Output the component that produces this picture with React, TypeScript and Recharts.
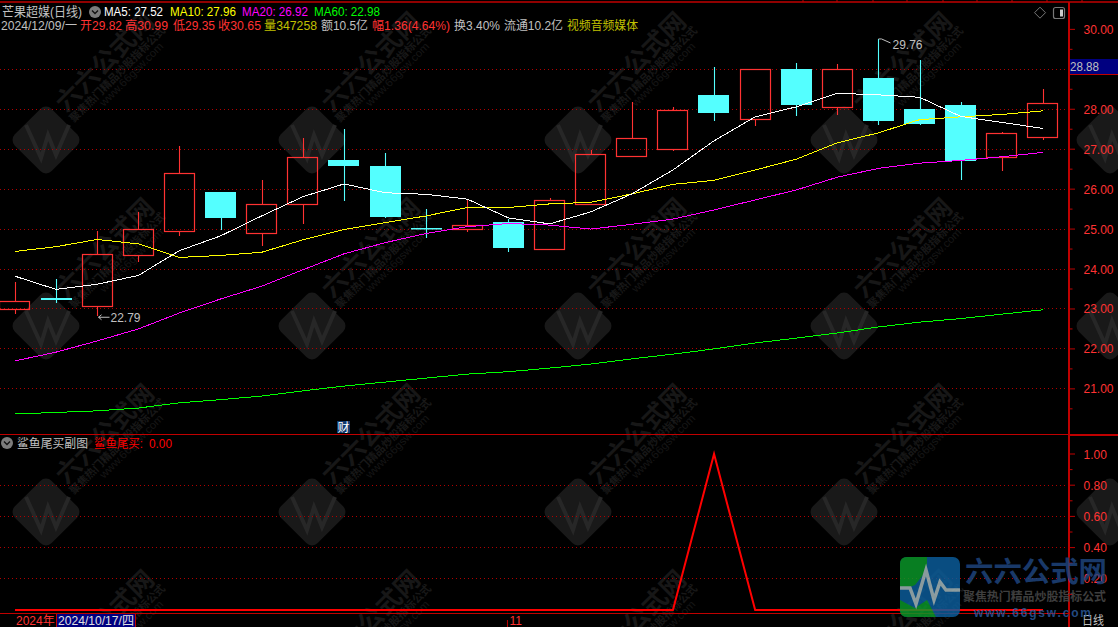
import React from "react";
import { ComposedChart, Bar, Line, XAxis, YAxis, CartesianGrid } from "recharts";

const indexes = [0,1,2,3,4,5,6,7,8,9,10,11,12,13,14,15,16,17,18,19,20,21,22,23,24,25];
const opens = [23.01,23.27,23.08,24.36,24.96,25.93,24.91,25.64,26.73,26.58,25.03,25.01,25.18,24.51,25.62,26.84,27.01,28.36,27.75,29.01,28.06,28.78,28.00,28.11,26.81,27.30];
const closes = [23.19,23.22,24.37,24.99,26.40,25.28,25.62,26.80,26.58,25.30,25.01,25.09,24.53,25.72,26.87,27.27,27.97,27.91,29.00,28.11,29.02,27.71,27.63,26.71,27.40,28.15];
const highs = [23.67,23.75,24.94,25.43,27.08,25.93,26.23,27.28,27.50,26.90,25.50,25.74,25.25,25.78,26.98,28.18,28.06,29.05,29.00,29.16,29.13,29.76,29.23,28.18,27.43,28.51];
const lows = [22.88,23.15,22.83,24.18,24.83,24.98,24.58,25.13,25.71,25.28,24.78,24.93,24.43,24.51,25.62,26.84,26.95,27.71,27.59,27.84,27.85,27.61,27.61,26.24,26.45,27.24];
const ma5 = [23.82,23.49,23.62,23.84,24.46,24.83,25.33,25.81,26.13,25.91,25.87,25.75,25.28,25.13,25.43,25.88,26.48,27.21,27.81,28.06,28.40,28.36,28.30,27.82,27.67,27.52];
const ma10 = [24.44,24.56,24.74,24.63,24.29,24.34,24.42,24.73,24.99,25.16,25.33,25.54,25.54,25.63,25.67,25.88,26.12,26.22,26.48,26.75,27.16,27.41,27.74,27.81,27.87,27.96];
const ma20 = [21.70,21.92,22.20,22.50,22.90,23.25,23.57,23.98,24.38,24.66,24.89,25.06,25.14,25.10,25.00,25.12,25.25,25.48,25.73,25.98,26.30,26.52,26.65,26.72,26.81,26.92];
const ma60 = [20.37,20.41,20.45,20.52,20.65,20.73,20.82,20.95,21.07,21.17,21.27,21.37,21.43,21.52,21.62,21.75,21.87,22.00,22.15,22.27,22.40,22.55,22.67,22.76,22.87,22.98];
const signal = [0,0,0,0,0,0,0,0,0,0,0,0,0,0,0,0,0,1,0,0,0,0,0,0,0,0];

const priceTicks = [20.5,21,21.5,22,22.5,23,23.5,24,24.5,25,25.5,26,26.5,27,27.5,28,28.5,29,29.5,30];
const priceGrid = [21,22,23,24,25,26,27,28,29];
const signalTicks = [0.1,0.2,0.3,0.4,0.5,0.6,0.7,0.8,0.9,1.0];
const signalGrid = [0.2,0.4,0.6,0.8];
const timeTicks = [0,12];
const timeLabels: Record<number,string> = { 0: "2024年", 12: "11" };
const lowMark = { index: 2, label: "22.79" };
const highMark = { index: 21, label: "29.76" };

const rows = indexes.map((i) => ({
  i, open: opens[i], close: closes[i], high: highs[i], low: lows[i],
  ma5: ma5[i], ma10: ma10[i], ma20: ma20[i], ma60: ma60[i], signal: signal[i],
}));

const RED = "#ff3232";
const CYAN = "#54ffff";
const FRAME = "#c00000";
const GREY = "#c0c0c0";
const FONT = "'Liberation Sans','Noto Sans CJK SC',sans-serif";
const CJK = "'Noto Sans CJK SC',sans-serif";
const X_DOMAIN: [number, number] = [-0.3648, 25.632];

const Candle = (props: any) => {
  const { x, y, width, height, payload, index } = props;
  const k = height / (payload.high - payload.low);
  const py = (p: number) => y + (payload.high - p) * k;
  const up = payload.close >= payload.open;
  const top = Math.round(py(Math.max(payload.open, payload.close)));
  const bot = Math.round(py(Math.min(payload.open, payload.close)));
  const left = Math.round(x);
  const cx = Math.round(x + width / 2) + 0.5;
  const color = up ? RED : CYAN;
  const lowY = y + height;
  return (
    <g>
      <line x1={cx} x2={cx} y1={Math.round(y)} y2={top} stroke={color} strokeWidth={1.1} />
      <line x1={cx} x2={cx} y1={bot} y2={Math.round(lowY)} stroke={color} strokeWidth={1.1} />
      {up ? (
        <rect x={left + 0.5} y={top + 0.5} width={width - 1} height={Math.max(bot - top, 1)} fill="none" stroke={color} strokeWidth={1.2} />
      ) : (
        <rect x={left} y={top} width={width} height={Math.max(bot - top, 1.5)} fill={color} />
      )}
      {index === lowMark.index && (
        <g>
          <path d={`M${cx + 1} ${lowY + 1.5}h11M${cx + 1} ${lowY + 1.5}l3 -2.5M${cx + 1} ${lowY + 1.5}l3 2.5`} stroke={GREY} fill="none" strokeWidth={1} />
          <text x={cx + 13} y={lowY + 6} fill={GREY} fontSize={12} fontFamily={FONT}>{lowMark.label}</text>
        </g>
      )}
      {index === highMark.index && (
        <g>
          <path d={`M${cx} ${y}h3l9 4`} stroke={GREY} fill="none" strokeWidth={1} />
          <text x={cx + 14} y={y + 10} fill={GREY} fontSize={12} fontFamily={FONT}>{highMark.label}</text>
        </g>
      )}
    </g>
  );
};

const AxisTick = (props: any) => {
  const { y, payload } = props;
  const v = payload.value;
  const major = Math.abs(v * 10 % 2) < 0.01 || Math.abs(v * 10 % 2 - 2) < 0.01;
  return (
    <g>
      <line x1={1070} x2={major ? 1075 : 1072.5} y1={y} y2={y} stroke={FRAME} strokeWidth={1} />
      {major && <text x={1083.5} y={y + 4.5} fill={RED} fontSize={12} fontFamily={FONT}>{v.toFixed(2)}</text>}
    </g>
  );
};

const PriceTick = (props: any) => {
  const { y, payload } = props;
  const v = payload.value;
  const major = Number.isInteger(v);
  return (
    <g>
      <line x1={1070} x2={major ? 1075 : 1072.5} y1={y} y2={y} stroke={FRAME} strokeWidth={1} />
      {major && v >= 21 && <text x={1083.5} y={y + 4.5} fill={RED} fontSize={12} fontFamily={FONT}>{v.toFixed(2)}</text>}
    </g>
  );
};

const TimeTick = (props: any) => {
  const { x, y, payload } = props;
  const v = payload.value;
  return (
    <g>
      {v === 12 && <line x1={x - 1} x2={x - 1} y1={y - 1} y2={y + 14} stroke={FRAME} />}
      <text x={x + 1} y={189} fill={RED} fontSize={12} fontFamily={FONT}>{timeLabels[v]}</text>
    </g>
  );
};

const T = ({ x, y, w, c, children, size = 12 }: any) => (
  <text x={x} y={y} textLength={w} lengthAdjust="spacingAndGlyphs" fill={c} fontSize={size} fontFamily={FONT}>{children}</text>
);

const Chevron = ({ x, y }: any) => (
  <g>
    <circle cx={x} cy={y} r={6} fill="#7c7c7c" />
    <path d={`M${x - 3} ${y - 1.5}l3 3l3 -3`} fill="none" stroke="#111" strokeWidth={1.3} />
  </g>
);

const wmRows = [140, 326, 512, 698];
const wmCols = [46, 312, 578, 844, 1110];

const Watermarks = () => (
  <svg width={1118} height={627} style={{ position: "absolute", left: 0, top: 0 }}>
    {wmRows.map((cy) =>
      wmCols.map((cx) => (
        <g key={`${cx}-${cy}`}>
          <rect x={-26} y={-26} width={52} height={52} rx={8} fill="#191919" transform={`translate(${cx} ${cy}) rotate(45)`} />
          <path d={`M${cx - 20} ${cy - 15}L${cx - 5} ${cy + 18}L${cx + 2} ${cy - 5}L${cx + 10} ${cy + 15}L${cx + 23} ${cy - 15}`} fill="none" stroke="#272727" strokeWidth={4} />
          {cx < 1100 && (
            <g>
              <g transform={`translate(${cx + 65} ${cy - 72}) rotate(-45)`}>
                <text textAnchor="middle" textLength={127} lengthAdjust="spacingAndGlyphs" fontSize={25} fontWeight={700} fill="#171717" fontFamily={CJK}>六六公式网</text>
              </g>
              <g transform={`translate(${cx + 74} ${cy - 63}) rotate(-45)`}>
                <text textAnchor="middle" textLength={130} lengthAdjust="spacingAndGlyphs" fontSize={11} fontWeight={700} fill="#181818" fontFamily={CJK}>聚焦热门精品炒股指标公式</text>
              </g>
              <g transform={`translate(${cx + 88} ${cy - 63}) rotate(-45)`}>
                <text textAnchor="middle" textLength={85} lengthAdjust="spacingAndGlyphs" fontSize={11} fill="#161616" fontFamily={FONT}>www.66gsw.com</text>
              </g>
            </g>
          )}
        </g>
      ))
    )}
  </svg>
);

const topTicks = [803, 837, 873, 907, 943, 977, 1012, 1047, 1082];

const Overlay = () => (
  <svg width={1118} height={627} style={{ position: "absolute", left: 0, top: 0 }}>
    <line x1={0} x2={1118} y1={2} y2={2} stroke={FRAME} strokeWidth={1.4} />
    {topTicks.map((x) => <line key={x} x1={x} x2={x} y1={0} y2={2} stroke={FRAME} />)}
    <line x1={1069} x2={1069} y1={2} y2={627} stroke={FRAME} strokeWidth={2} />
    <line x1={0} x2={1069} y1={434.5} y2={434.5} stroke={FRAME} strokeWidth={1} />
    <line x1={1069} x2={1118} y1={435} y2={435} stroke={FRAME} strokeWidth={2} />
    <line x1={0} x2={1069} y1={613.5} y2={613.5} stroke={FRAME} strokeWidth={1} />

    <rect x={1070} y={59} width={48} height={15} fill="#000080" />
    <line x1={1070} x2={1118} y1={74.5} y2={74.5} stroke={FRAME} />
    <T x={1070} y={71} w={29} c={GREY}>28.88</T>

    <path d="M1040 7.2l5.5 5.5l-5.5 5.5l-5.5 -5.5z" fill="none" stroke="#777" />
    <rect x={1053.5} y={7.5} width={11} height={11} rx={2} fill="none" stroke="#777" strokeWidth={1.2} />
    <rect x={1060} y={9.5} width={3} height={7} fill="#ccc" />

    <T x={2} y={16} w={80} c={GREY} size={13}>芒果超媒(日线)</T>
    <Chevron x={95} y={12} />
    <T x={104} y={16} w={59} c="#ffffff">MA5: 27.52</T>
    <T x={170} y={16} w={66} c="#ffff00">MA10: 27.96</T>
    <T x={242} y={16} w={66} c="#ff00ff">MA20: 26.92</T>
    <T x={314} y={16} w={66} c="#00ff00">MA60: 22.98</T>

    <T x={1} y={30} w={76} c={GREY}>2024/12/09/一</T>
    <T x={80} y={30} w={42} c={RED}>开29.82</T>
    <T x={125} y={30} w={43} c={RED}>高30.99</T>
    <T x={173} y={30} w={42} c={RED}>低29.35</T>
    <T x={218} y={30} w={43} c={RED}>收30.65</T>
    <T x={264} y={30} w={53} c="#c0c000">量347258</T>
    <T x={321} y={30} w={47} c={GREY}>额10.5亿</T>
    <T x={372} y={30} w={78} c={RED}>幅1.36(4.64%)</T>
    <T x={454} y={30} w={46} c={GREY}>换3.40%</T>
    <T x={504} y={30} w={59} c={GREY}>流通10.2亿</T>
    <T x={567} y={30} w={71} c="#c0c000">视频音频媒体</T>

    <rect x={337} y={421} width={13} height={12} fill="#103a6e" />
    <text x={337.5} y={431.5} fontSize={12} fill="#ffffff" fontFamily={CJK}>财</text>

    <Chevron x={7} y={443} />
    <T x={17} y={447.5} w={71} c={GREY}>鲨鱼尾买副图</T>
    <T x={94} y={447.5} w={49} c="#ff0000">鲨鱼尾买:</T>
    <T x={149} y={447.5} w={23} c="#ff0000">0.00</T>

    <rect x={57} y={614} width={78} height={13} fill="#000080" />
    <line x1={56.5} x2={56.5} y1={614} y2={627} stroke={FRAME} />
    <line x1={135.5} x2={135.5} y1={614} y2={627} stroke={FRAME} />
    <T x={58} y={625} w={76} c="#e0e0e0">2024/10/17/四</T>

    <T x={1082} y={625} w={22} c={GREY}>日线</T>

    <g opacity={0.82}>
      <rect x={900} y={557} width={60} height={60} rx={7} fill="#0c5f9e" />
      <path d="M907 557H927V570L915 585L910 587H900V564Q900 557 907 557Z" fill="#0a9a2a" />
      <path d="M927 617H907Q900 617 900 610V600L915 608L927 600L936 617Z" fill="#0a9a2a" />
      <path d="M900 588H910L916 604L926 570L934 600L940 582L946 590H960" fill="none" stroke="#a8bcc0" strokeWidth={3.5} />
      <text x={965} y={582} textLength={142} lengthAdjust="spacingAndGlyphs" fontSize={28} fontWeight={700} fill="#1f4680" fontFamily={CJK}>六六公式网</text>
      <text x={963} y={601} textLength={143} lengthAdjust="spacingAndGlyphs" fontSize={12} fontWeight={700} fill="#4c4c4c" fontFamily={CJK}>聚焦热门精品炒股指标公式</text>
      <text x={974} y={617} textLength={117} lengthAdjust="spacing" fontSize={12} fontWeight={700} fill="#2b5a9e" fontFamily={FONT}>www.66gsw.com</text>
    </g>
  </svg>
);

export default function App() {
  return (
    <div style={{ position: "fixed", left: 0, top: 0, width: 1118, height: 627, background: "#000", overflow: "hidden" }}>
      <Watermarks />
      <div style={{ position: "absolute", left: 0, top: 0 }}>
        <ComposedChart width={1118} height={434} data={rows} margin={{ top: 3, right: 0, bottom: 0, left: 0 }}>
          <CartesianGrid vertical={false} horizontalValues={priceGrid} stroke="#b00000" strokeDasharray="1 3" shapeRendering="crispEdges" />
          <XAxis dataKey="i" type="number" domain={X_DOMAIN} allowDataOverflow hide />
          <YAxis orientation="right" width={49} domain={[19.87, 30.66]} allowDataOverflow ticks={priceTicks} interval={0} axisLine={false} tickLine={false} tick={<PriceTick />} />
          <Bar dataKey={(d: any) => [d.low, d.high]} barSize={31} shape={<Candle />} isAnimationActive={false} />
          <Line dataKey="ma60" stroke="#00ff00" strokeWidth={1} shapeRendering="crispEdges" dot={false} isAnimationActive={false} />
          <Line dataKey="ma20" stroke="#ff00ff" strokeWidth={1} shapeRendering="crispEdges" dot={false} isAnimationActive={false} />
          <Line dataKey="ma10" stroke="#ffff00" strokeWidth={1} shapeRendering="crispEdges" dot={false} isAnimationActive={false} />
          <Line dataKey="ma5" stroke="#ffffff" strokeWidth={1} shapeRendering="crispEdges" dot={false} isAnimationActive={false} />
        </ComposedChart>
      </div>
      <div style={{ position: "absolute", left: 0, top: 436 }}>
        <ComposedChart width={1118} height={191} data={rows} margin={{ top: 0, right: 0, bottom: 0, left: 0 }}>
          <CartesianGrid vertical={false} horizontalValues={signalGrid} stroke="#b00000" strokeDasharray="1 3" shapeRendering="crispEdges" />
          <XAxis dataKey="i" type="number" domain={X_DOMAIN} allowDataOverflow height={14} ticks={timeTicks} interval={0} axisLine={false} tickLine={false} tick={<TimeTick />} />
          <YAxis orientation="right" width={49} domain={[-0.0192, 1.1154]} allowDataOverflow ticks={signalTicks} interval={0} axisLine={false} tickLine={false} tick={<AxisTick />} />
          <Line dataKey="signal" stroke="#ff0000" strokeWidth={2} dot={false} isAnimationActive={false} />
        </ComposedChart>
      </div>
      <Overlay />
    </div>
  );
}
